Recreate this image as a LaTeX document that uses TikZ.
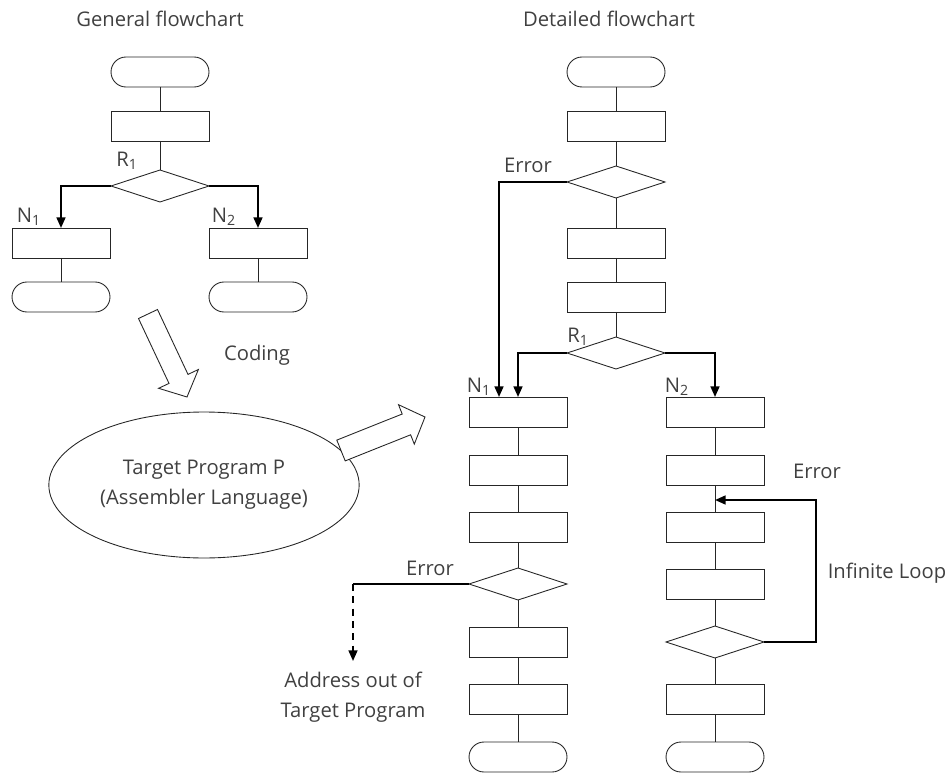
\documentclass[tikz,border=0pt]{standalone}
\usepackage{fontspec}
\setmainfont{Open Sans}
\usetikzlibrary{shapes.geometric, arrows.meta}

\tikzset{
  box/.style={draw=black!85, line width=0.5pt, minimum width=1.96cm, minimum height=0.6cm, inner sep=0pt, outer sep=0pt},
  term/.style={box, rounded corners=0.3cm},
  proc/.style={box},
  dec/.style={draw=black!85, line width=0.5pt, diamond, minimum width=1.96cm, minimum height=0.64cm, inner sep=0pt, outer sep=0pt},
  lbl/.style={text=black!75, font=\fontsize{11.5}{17}\selectfont, inner sep=1pt},
  link/.style={draw=black!85, line width=0.5pt},
  flow/.style={line width=1.1pt, -{Triangle[length=6pt,width=5pt]}},
  hollow/.style={draw=black!85, line width=0.5pt, fill=white, line join=miter}
}

\begin{document}
\begin{tikzpicture}[x=0.02cm, y=-0.02cm]
    \useasboundingbox (0,0) rectangle (952,773);

    % general flowchart
    \node[lbl] (gtitle) at (160,19) {General flowchart};
    \node[term] (gstart) at (160,72) {};
    \node[proc] (gproc) at (160,126) {};
    \node[dec] (gdec) at (160,186) {};
    \node[proc] (gleft) at (61,243) {};
    \node[proc] (gright) at (258,243) {};
    \node[term] (gendl) at (61,297) {};
    \node[term] (gendr) at (258,297) {};
    \node[lbl] (gr) at (127,161) {R\textsubscript{1}};
    \node[lbl] (gn1) at (29,217) {N\textsubscript{1}};
    \node[lbl] (gn2) at (224,217) {N\textsubscript{2}};

    \draw[link] (gstart) -- (gproc) -- (gdec);
    \draw[flow] (gdec.west) -| (gleft.north);
    \draw[flow] (gdec.east) -| (gright.north);
    \draw[link] (gleft) -- (gendl);
    \draw[link] (gright) -- (gendr);

    % coding step
    \draw[hollow] (157.5,309.5) -- (188,374.4) -- (198.4,369.5) -- (187,397) -- (158.6,388.3) -- (169,383.4) -- (138.5,318.5) -- cycle;
    \node[lbl] (coding) at (257,355) {Coding};
    \node[draw=black!85, line width=0.5pt, ellipse, minimum width=4.72cm, minimum height=2.92cm, align=center, text=black!75, font=\fontsize{11.5}{17}\selectfont] (prog) at (204,485) {Target Program P\\(Assembler Language)};
    \draw[hollow] (336.8,440.1) -- (402.2,414.0) -- (398.5,404.7) -- (425,417) -- (414.3,444.1) -- (410.6,434.8) -- (345.2,460.9) -- cycle;

    % detailed flowchart
    \node[lbl] (dtitle) at (609,19) {Detailed flowchart};
    \node[term] (dstart) at (616,72) {};
    \node[proc] (dp1) at (616,126) {};
    \node[dec] (dd1) at (616,182) {};
    \node[proc] (dp2) at (616,243) {};
    \node[proc] (dp3) at (616,297) {};
    \node[dec] (dd2) at (616,353) {};
    \node[lbl] (dr) at (578,337) {R\textsubscript{1}};
    \node[lbl] (err1) at (528,165) {Error};

    \node[proc] (a1) at (518,412) {};
    \node[proc] (a2) at (518,470) {};
    \node[proc] (a3) at (518,527) {};
    \node[dec] (adec) at (518,584) {};
    \node[proc] (a4) at (518,642) {};
    \node[proc] (a5) at (518,699) {};
    \node[term] (aend) at (518,757) {};

    \node[proc] (b1) at (715,412) {};
    \node[proc] (b2) at (715,470) {};
    \node[proc] (b3) at (715,527) {};
    \node[proc] (b4) at (715,584) {};
    \node[dec] (bdec) at (715,642) {};
    \node[proc] (b5) at (715,699) {};
    \node[term] (bend) at (715,757) {};

    \node[lbl] (dn1) at (479,387) {N\textsubscript{1}};
    \node[lbl] (dn2) at (677,387) {N\textsubscript{2}};
    \node[lbl] (err2) at (430,568) {Error};
    \node[lbl] (err3) at (817,471) {Error};
    \node[lbl] (loop) at (887,573) {Infinite Loop};
    \node[lbl, align=center] (addr) at (353,697) {Address out of\\Target Program};

    \draw[link] (dstart) -- (dp1) -- (dd1) -- (dp2) -- (dp3) -- (dd2);
    \draw[flow] (dd1.west) -| ([xshift=-0.38cm]a1.north);
    \draw[flow] (dd2.west) -| (a1.north);
    \draw[flow] (dd2.east) -| (b1.north);

    \draw[link] (a1) -- (a2) -- (a3) -- (adec) -- (a4) -- (a5) -- (aend);
    \draw[link] (b1) -- (b2) -- (b3) -- (b4) -- (bdec) -- (b5) -- (bend);

    \coordinate (acorner) at (353,584);
    \coordinate (aout) at (353,661);
    \draw[line width=1.1pt] (adec.west) -- (acorner);
    \draw[flow, dash pattern=on 4pt off 3pt] (acorner) -- (aout);

    \coordinate (loopin) at (715,500);
    \draw[flow] (bdec.east) -- ++(52,0) |- (loopin);
  \end{tikzpicture}
\end{document}
